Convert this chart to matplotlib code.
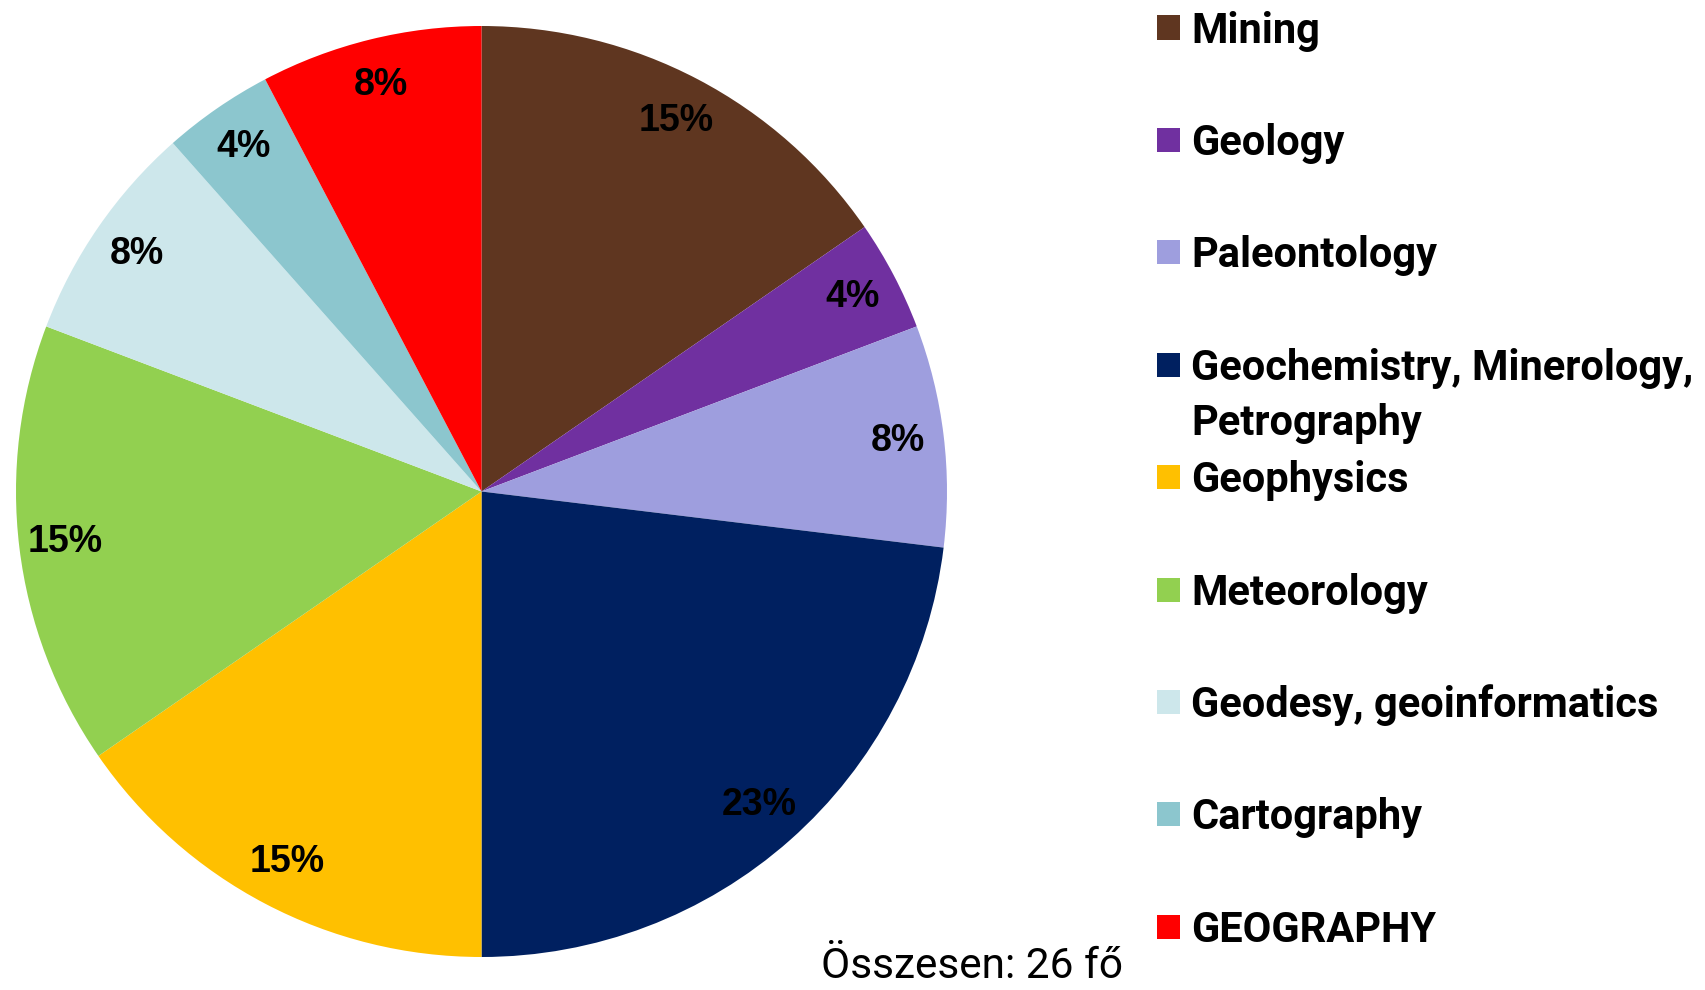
import matplotlib
matplotlib.use('Agg')
import matplotlib.pyplot as plt
from matplotlib.patches import Rectangle

labels = ['Mining', 'Geology', 'Paleontology', 'Geochemistry, Minerology,\nPetrography',
          'Geophysics', 'Meteorology', 'Geodesy, geoinformatics', 'Cartography', 'GEOGRAPHY']
counts = [4, 1, 2, 6, 4, 4, 2, 1, 2]
colors = ['#5F3620', '#7030A0', '#9E9EDE', '#002060', '#FFC000',
          '#92D050', '#CDE7EB', '#8CC6CE', '#FF0000']
total_text = 'Összesen: 26 fő'

W, H = 1705, 990
fig = plt.figure(figsize=(W / 100, H / 100), dpi=100)

# pie: center (481.5, 491.5) px, radius 465.5 px
cx, cy, r = 481.5, 491.5, 465.5
ax = fig.add_axes([(cx - r) / W, (H - cy - r) / H, 2 * r / W, 2 * r / H])
ax.pie(counts, colors=colors, startangle=90, counterclock=False,
       autopct='%.0f%%', pctdistance=0.9,
       textprops=dict(fontsize=27, fontweight='bold', color='black',
                      family=['Liberation Sans', 'DejaVu Sans']))
ax.set_xlim(-1, 1)
ax.set_ylim(-1, 1)
ax.set_aspect('equal')
ax.axis('off')

# legend drawn by hand, evenly spaced rows like the original
narrow = ['Roboto', 'DejaVu Sans']
y0, step = 27.5, 112.4
for i, (lab, col) in enumerate(zip(labels, colors)):
    yc = y0 + i * step
    fig.patches.append(Rectangle((1157 / W, (H - yc - 12) / H), 23 / W, 24 / H,
                                 transform=fig.transFigure, facecolor=col,
                                 edgecolor='none'))
    for k, line in enumerate(lab.split('\n')):
        fig.text(1191 / W, (H - yc - 15 - 55 * k) / H, line, ha='left', va='baseline',
                 fontsize=30, fontweight='bold', family=narrow)

# note near the bottom edge, as in the original
fig.text(821 / W, (H - 978) / H, total_text, ha='left', va='baseline',
         fontsize=30.5, family=narrow)

fig.savefig('out.png', dpi=100, facecolor='white')
